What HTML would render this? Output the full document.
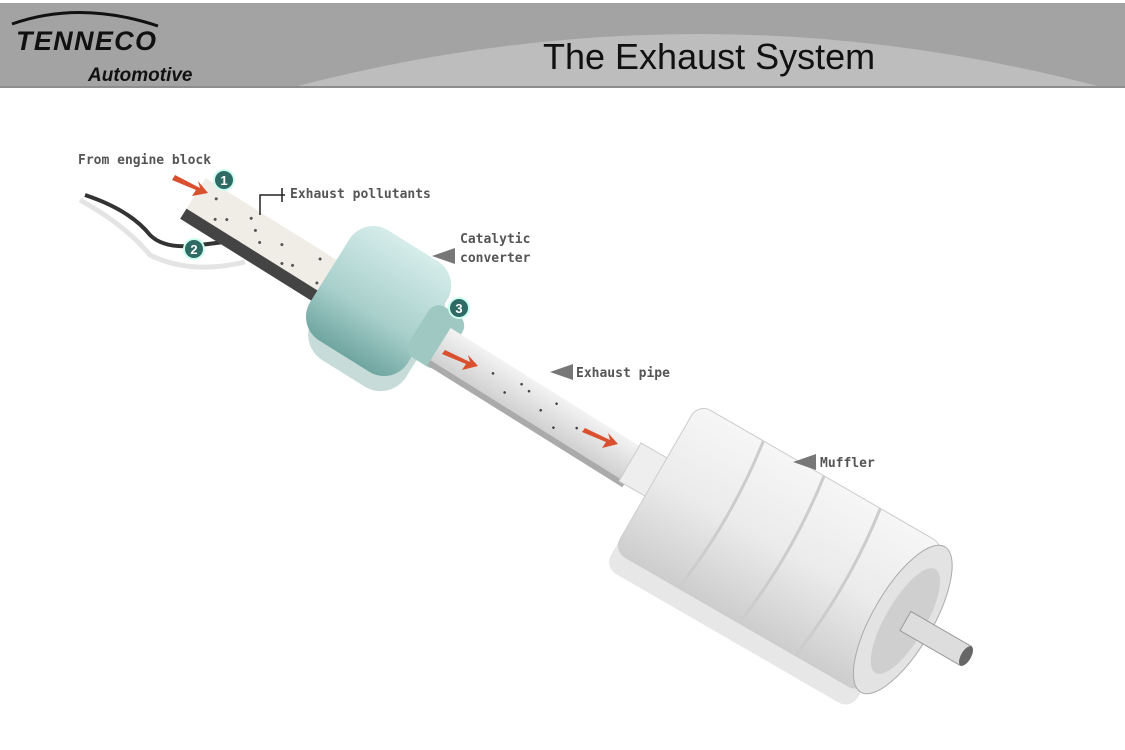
<!DOCTYPE html>
<html><head><style>
body{margin:0;background:#fff;overflow:hidden;}
svg{display:block}
</style></head><body>
<svg width="1125" height="750" viewBox="0 0 1125 750" xmlns="http://www.w3.org/2000/svg">
<defs>
<linearGradient id="mg" x1="0" y1="0" x2="0" y2="1">
<stop offset="0" stop-color="#f6f6f6"/><stop offset="0.5" stop-color="#ebebeb"/><stop offset="1" stop-color="#cdcdcd"/>
</linearGradient>
<linearGradient id="cg" x1="0" y1="0" x2="0" y2="1">
<stop offset="0" stop-color="#d5ecea"/><stop offset="0.6" stop-color="#a9d0cc"/><stop offset="1" stop-color="#6fa5a0"/>
</linearGradient>
<linearGradient id="pg" x1="0" y1="0" x2="0" y2="1">
<stop offset="0" stop-color="#f3f3f3"/><stop offset="1" stop-color="#cfcfcf"/>
</linearGradient>
</defs>
<rect x="0" y="3" width="1125" height="85" fill="#a3a3a3"/>
<path d="M290 88 Q700 -20 1105 88 Z" fill="#bdbdbd"/>
<rect x="0" y="86" width="1125" height="2" fill="#8d8d8d"/>
<path d="M12 24 Q80 0 158 26" stroke="#111" stroke-width="3" fill="none"/>
<text x="16" y="50" font-family="Liberation Sans, sans-serif" font-weight="bold" font-style="italic" font-size="27" fill="#111" textLength="140">TENNECO</text>
<text x="88" y="81" font-family="Liberation Sans, sans-serif" font-weight="bold" font-style="italic" font-size="19" fill="#111">Automotive</text>
<text x="543" y="69" font-family="Liberation Sans, sans-serif" font-size="36" fill="#111">The Exhaust System</text>

<path d="M85 195 Q130 210 150 235 Q165 250 200 245 L240 240" stroke="#333" stroke-width="4" fill="none"/>
<path d="M80 200 Q125 225 150 255 Q190 275 245 262" stroke="#e4e4e4" stroke-width="5" fill="none"/>

<g transform="translate(195,195) rotate(32)">
<rect x="0" y="-20" width="210" height="36" fill="#f0ede6"/>
<rect x="0" y="16" width="210" height="12" fill="#444"/>
<g fill="#555">
<circle cx="20" cy="-8" r="1.5"/><circle cx="40" cy="4" r="1.5"/><circle cx="60" cy="-10" r="1.5"/><circle cx="80" cy="6" r="1.5"/><circle cx="100" cy="-4" r="1.5"/><circle cx="120" cy="8" r="1.5"/><circle cx="140" cy="-12" r="1.5"/><circle cx="160" cy="2" r="1.5"/><circle cx="180" cy="-6" r="1.5"/><circle cx="30" cy="10" r="1.5"/><circle cx="70" cy="-2" r="1.5"/><circle cx="110" cy="12" r="1.5"/><circle cx="150" cy="10" r="1.5"/><circle cx="190" cy="10" r="1.5"/>
</g>
</g>
<g transform="translate(385,305) rotate(32)">
<rect x="-60" y="-55" width="110" height="125" rx="30" fill="#8fb9b4" opacity="0.5" transform="translate(6,10)"/>
<rect x="-65" y="-65" width="115" height="130" rx="28" fill="url(#cg)"/>
<rect x="40" y="-30" width="40" height="60" rx="12" fill="#9fc8c3"/>
</g>
<g transform="translate(440,345) rotate(32)">
<rect x="0" y="-20" width="230" height="40" fill="url(#pg)"/>
<rect x="0" y="18" width="230" height="6" fill="#aaa"/>
<g fill="#444"><circle cx="60" cy="-4" r="1.3"/><circle cx="80" cy="6" r="1.3"/><circle cx="100" cy="-8" r="1.3"/><circle cx="120" cy="2" r="1.3"/><circle cx="140" cy="10" r="1.3"/><circle cx="160" cy="-2" r="1.3"/><circle cx="90" cy="-10" r="1.3"/><circle cx="130" cy="-12" r="1.3"/></g>
</g>
<polygon points="445,350 470,362 468,355 478,366 462,370 466,364 442,354" fill="#d9502f"/>
<polygon points="585,428 610,440 608,433 618,444 602,448 606,442 582,432" fill="#d9502f"/>
<polygon points="175,175 200,188 198,181 208,193 192,196 196,190 172,180" fill="#d9502f"/>
<g transform="translate(630,462) rotate(30)">
<rect x="0" y="-22" width="35" height="44" fill="#eee" stroke="#ccc"/>
<rect x="30" y="-80" width="285" height="170" rx="14" fill="#bbb" opacity="0.35" transform="translate(0,14)"/>
<rect x="30" y="-85" width="285" height="170" rx="14" fill="url(#mg)" stroke="#ccc"/>
<path d="M105 -85 q12 85 0 170 M175 -85 q12 85 0 170 M240 -85 q12 85 0 170" stroke="#ccc" stroke-width="3" fill="none"/>
<ellipse cx="315" cy="0" rx="30" ry="84" fill="#e3e3e3" stroke="#aaa"/>
<ellipse cx="318" cy="0" rx="20" ry="60" fill="#cfcfcf"/>
<rect x="318" y="-11" width="70" height="22" fill="#ddd" stroke="#999"/>
<ellipse cx="388" cy="0" rx="5" ry="11" fill="#666"/>
</g>

<g font-family="Liberation Sans, sans-serif" font-weight="bold" font-size="13" fill="#fff" text-anchor="middle">
<circle cx="224" cy="180" r="10" fill="#2f6b64" stroke="#cfe" stroke-width="2"/><text x="224" y="185">1</text>
<circle cx="194" cy="249" r="10" fill="#2f6b64" stroke="#cfe" stroke-width="2"/><text x="194" y="254">2</text>
<circle cx="459" cy="308" r="10" fill="#2f6b64" stroke="#cfe" stroke-width="2"/><text x="459" y="313">3</text>
</g>

<g font-family="DejaVu Sans Mono, monospace" font-weight="bold" font-size="13" fill="#555">
<text x="78" y="164">From engine block</text>
<text x="290" y="198">Exhaust pollutants</text>
<text x="460" y="243">Catalytic</text>
<text x="460" y="262">converter</text>
<text x="576" y="377">Exhaust pipe</text>
<text x="820" y="467">Muffler</text>
</g>
<path d="M260 215 V195 H285 M282 188 V202" stroke="#222" stroke-width="1.5" fill="none"/>
<g fill="#777">
<polygon points="432,256 455,248 455,264"/>
<polygon points="550,372 573,364 573,380"/>
<polygon points="793,462 816,454 816,470"/>
</g>
</svg>
</body></html>
